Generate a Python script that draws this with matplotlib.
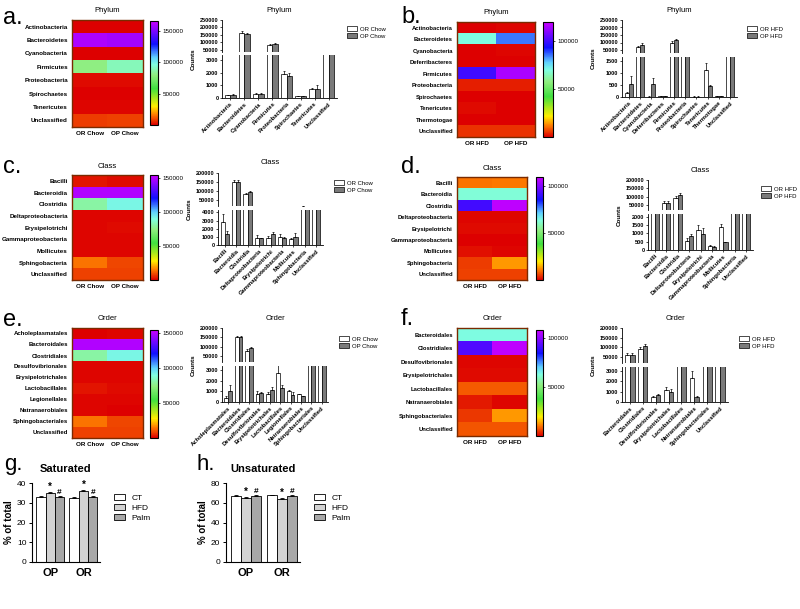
import numpy as np
import matplotlib
matplotlib.use('Agg')
import matplotlib.pyplot as plt
from matplotlib.colors import LinearSegmentedColormap

plt.rcParams['font.family'] = ['Liberation Sans', 'DejaVu Sans']

# ---- data ----
# a. phylum, chow
phy_chow = ["Actinobacteria", "Bacteroidetes", "Cyanobacteria", "Firmicutes",
            "Proteobacteria", "Spirochaetes", "Tenericutes", "Unclassified"]
phy_chow_or = [200, 160000, 350, 80000, 1900, 150, 750, 8000]
phy_chow_op = [250, 158000, 330, 90000, 1750, 130, 700, 8500]
phy_chow_or_err = [30, 15000, 40, 8000, 250, 20, 80, 300]
phy_chow_op_err = [40, 8000, 40, 9000, 200, 20, 300, 300]

# b. phylum, HFD
phy_hfd = ["Actinobacteria", "Bacteroidetes", "Cyanobacteria", "Deferribacteres", "Firmicutes",
           "Proteobacteria", "Spirochaetes", "Tenericutes", "Thermotogae", "Unclassified"]
phy_hfd_or = [150, 70000, 20, 30, 100000, 3000, 20, 1100, 50, 5000]
phy_hfd_op = [550, 85000, 550, 30, 115000, 3000, 20, 450, 50, 5000]
phy_hfd_or_err = [50, 10000, 10, 5, 8000, 100, 5, 300, 10, 100]
phy_hfd_op_err = [300, 10000, 250, 5, 10000, 100, 5, 40, 10, 100]

# c. class, chow
cls_chow = ["Bacilli", "Bacteroidia", "Clostridia", "Deltaproteobacteria", "Erysipelotrichi",
            "Gammaproteobacteria", "Mollicutes", "Sphingobacteria", "Unclassified"]
cls_chow_or = [2800, 150000, 80000, 900, 850, 1000, 700, 14000, 8000]
cls_chow_op = [1300, 150000, 92000, 800, 1300, 800, 1000, 9000, 8000]
cls_chow_or_err = [1000, 10000, 8000, 300, 200, 300, 200, 500, 500]
cls_chow_op_err = [400, 8000, 8000, 100, 300, 200, 500, 500, 500]

# d. class, HFD
cls_hfd = cls_chow
cls_hfd_or = [10000, 63000, 92000, 550, 1200, 250, 1400, 5500, 6000]
cls_hfd_op = [10500, 63000, 108000, 850, 950, 200, 450, 13000, 6000]
cls_hfd_or_err = [500, 8000, 10000, 150, 300, 30, 150, 500, 500]
cls_hfd_op_err = [500, 8000, 12000, 80, 350, 20, 50, 800, 500]

# e. order, chow
ord_chow = ["Acholeplasmatales", "Bacteroidales", "Clostridiales", "Desulfovibrionales",
            "Erysipelotrichales", "Lactobacillales", "Legionellales", "Natranaerobiales",
            "Sphingobacteriales", "Unclassified"]
ord_chow_or = [400, 150000, 80000, 800, 800, 2700, 1000, 750, 14000, 8000]
ord_chow_op = [1000, 150000, 92000, 850, 1100, 1300, 700, 550, 9000, 8000]
ord_chow_or_err = [200, 10000, 8000, 200, 100, 1400, 100, 50, 500, 500]
ord_chow_op_err = [600, 8000, 8000, 100, 300, 300, 200, 50, 500, 500]

# f. order, HFD
ord_hfd = ["Bacteroidales", "Clostridiales", "Desulfovibrionales", "Erysipelotrichales",
           "Lactobacillales", "Natranaerobiales", "Sphingobacteriales", "Unclassified"]
ord_hfd_or = [63000, 92000, 500, 1200, 8000, 2300, 5000, 7500]
ord_hfd_op = [63000, 106000, 700, 950, 8000, 500, 13000, 7500]
ord_hfd_or_err = [8000, 10000, 100, 300, 300, 700, 300, 300]
ord_hfd_op_err = [8000, 12000, 80, 300, 300, 50, 600, 300]

# g, h. fatty acids
groups = ["OP", "OR"]
sat_ct = [33.0, 32.5]
sat_hfd = [34.8, 35.8]
sat_palm = [32.8, 32.8]
sat_err = [0.5, 0.6, 0.5]
unsat_ct = [67.0, 67.5]
unsat_hfd = [65.0, 64.0]
unsat_palm = [67.0, 67.0]
unsat_err = [0.5, 0.6, 0.5]

# ---- setup ----
W, H = 800, 609
fig = plt.figure(figsize=(8, 6.09), dpi=100)

cmap = LinearSegmentedColormap.from_list('gp_rainbow', [
    (0.0, '#dd0000'), (0.1, '#ff8000'), (0.18, '#ffee00'), (0.35, '#40e040'),
    (0.48, '#90ee80'), (0.58, '#80ffe0'), (0.65, '#60d0ff'), (0.78, '#1010ff'),
    (1.0, '#cc00ff')])


def box(x0, y0, x1, y1):
    return [x0 / W, 1 - y1 / H, (x1 - x0) / W, (y1 - y0) / H]


def heatmap(rect, cbrect, rows, cols, v_or, v_op, vmax, ticks, title, fs=4.5):
    ax = fig.add_axes(box(*rect))
    data = np.column_stack([v_or, v_op])
    im = ax.imshow(data, cmap=cmap, vmin=0, vmax=vmax, aspect='auto', interpolation='nearest')
    ax.set_xticks([0, 1])
    ax.set_xticklabels(cols, fontsize=4.5, fontweight='bold')
    ax.set_yticks(range(len(rows)))
    ax.set_yticklabels(rows, fontsize=fs, fontweight='bold')
    ax.tick_params(length=0, pad=3)
    for s in ax.spines.values():
        s.set_color('#7a2a00')
        s.set_linewidth(1)
    cax = fig.add_axes(box(*cbrect))
    cb = fig.colorbar(im, cax=cax, ticks=ticks)
    cb.ax.tick_params(labelsize=4.5, length=1.5, width=0.5, pad=2)
    cb.outline.set_linewidth(0.8)
    fig.text((rect[0] + rect[2]) / 2 / W, 1 - (rect[1] - 9) / H, title,
             ha='center', va='center', fontsize=5.5)


def broken(xr, up_y, lo_y, cats, v_or, v_op, e_or, e_op, up_lim, up_ticks,
           lo_lim, lo_ticks, labels, leg_xy, title):
    n = len(cats)
    x = np.arange(n)
    w = 0.37
    zero = np.zeros(n)
    ek = dict(elinewidth=0.5, capsize=1, capthick=0.5)
    axu = fig.add_axes(box(xr[0], up_y[0], xr[1], up_y[1]))
    axl = fig.add_axes(box(xr[0], lo_y[0], xr[1], lo_y[1]))
    for ax in (axu, axl):
        b1 = ax.bar(x - w / 2, v_or, w, color='white', edgecolor='black', linewidth=0.5,
                    yerr=[zero, e_or], error_kw=ek)
        b2 = ax.bar(x + w / 2, v_op, w, color='#7a7a7a', edgecolor='black', linewidth=0.5,
                    yerr=[zero, e_op], error_kw=ek)
        ax.set_xlim(-0.6, n - 0.4)
        ax.spines[['top', 'right']].set_visible(False)
        ax.spines['left'].set_linewidth(0.6)
        ax.spines['bottom'].set_linewidth(0.6)
        ax.tick_params(labelsize=4, length=1.5, width=0.5, pad=1)
    axu.set_ylim(up_lim)
    axu.set_yticks(up_ticks)
    axu.spines['bottom'].set_visible(False)
    axu.set_xticks([])
    axl.set_ylim(lo_lim)
    axl.set_yticks(lo_ticks)
    axl.set_xticks(x)
    axl.set_xticklabels(cats, rotation=45, ha='right', rotation_mode='anchor',
                        fontsize=4.2, fontweight='bold')
    for ax in (axu, axl):
        for t in ax.get_yticklabels():
            t.set_fontweight('bold')
    fig.legend([b1, b2], labels, loc='upper left',
               bbox_to_anchor=(leg_xy[0] / W, 1 - leg_xy[1] / H), frameon=False,
               fontsize=4.3, handlelength=1.6, handleheight=0.8, labelspacing=0.3,
               borderpad=0.2, handletextpad=0.5)
    fig.text((xr[0] - 29) / W, 1 - (up_y[0] + lo_y[1]) / 2 / H, 'Counts', rotation=90,
             ha='center', va='center', fontsize=4.5, fontweight='bold')
    fig.text((xr[0] + xr[1]) / 2 / W, 1 - (up_y[0] - 10) / H, title,
             ha='center', va='center', fontsize=5.5)


def fatty(rect, ct, hfd, palm, err, ylim, yticks, title, leg_xy):
    ax = fig.add_axes(box(*rect))
    x = np.arange(len(groups))
    w = 0.28
    cols = ['white', '#d3d3d3', '#a8a8a8']
    labs = ['CT', 'HFD', 'Palm']
    handles = []
    for k, vals in enumerate([ct, hfd, palm]):
        b = ax.bar(x + (k - 1) * w, vals, w, color=cols[k], edgecolor='black', linewidth=0.6,
                   yerr=[np.zeros(len(x)), [err[k]] * len(x)],
                   error_kw=dict(elinewidth=0.6, capsize=1.5, capthick=0.6))
        handles.append(b)
    for i in range(len(x)):
        ax.text(x[i], hfd[i] + err[1] + ylim[1] * 0.005, '*', ha='center', va='bottom',
                fontsize=7, fontweight='bold')
        ax.text(x[i] + w, palm[i] + err[2] + ylim[1] * 0.005, '#', ha='center', va='bottom',
                fontsize=6, fontweight='bold')
    ax.set_xlim(-0.55, 1.5)
    ax.set_ylim(ylim)
    ax.set_yticks(yticks)
    ax.set_xticks(x)
    ax.set_xticklabels(groups, fontsize=8, fontweight='bold')
    ax.spines[['top', 'right']].set_visible(False)
    ax.tick_params(axis='y', labelsize=6, length=2.5, width=0.7, pad=1.5)
    ax.tick_params(axis='x', length=0, pad=4)
    ax.set_ylabel('% of total', fontsize=7, fontweight='bold', labelpad=2)
    fig.text((rect[0] + rect[2]) / 2 / W, 1 - (rect[1] - 14) / H, title,
             ha='center', va='center', fontsize=8, fontweight='bold')
    fig.legend(handles, labs, loc='upper left', bbox_to_anchor=(leg_xy[0] / W, 1 - leg_xy[1] / H),
               frameon=False, fontsize=6, handlelength=1.4, handleheight=0.9, labelspacing=0.2)


# ---- panels ----
heatmap((72, 20, 143, 127), (150, 21, 158, 125), phy_chow, ["OR Chow", "OP Chow"],
        phy_chow_or, phy_chow_op, 166000, [50000, 100000, 150000], "Phylum")
broken((222, 337), (20, 52), (55, 98), phy_chow, phy_chow_or, phy_chow_op,
       phy_chow_or_err, phy_chow_op_err, (36000, 250000), [50000, 100000, 150000, 200000, 250000],
       (0, 3400), [0, 1000, 2000, 3000], ["OR Chow", "OP Chow"], (343, 22), "Phylum")

heatmap((457, 22, 535, 137), (543, 22, 553, 137), phy_hfd, ["OR HFD", "OP HFD"],
        phy_hfd_or, phy_hfd_op, 120000, [50000, 100000], "Phylum", fs=4.2)
broken((622, 737), (20, 53), (57, 97), phy_hfd, phy_hfd_or, phy_hfd_op,
       phy_hfd_or_err, phy_hfd_op_err, (30000, 250000), [50000, 100000, 150000, 200000, 250000],
       (0, 1650), [0, 500, 1000, 1500], ["OR HFD", "OP HFD"], (743, 22), "Phylum")

heatmap((72, 175, 143, 280), (150, 175, 158, 280), cls_chow, ["OR Chow", "OP Chow"],
        cls_chow_or, cls_chow_op, 155000, [50000, 100000, 150000], "Class")
broken((218, 323), (173, 206), (210, 245), cls_chow, cls_chow_or, cls_chow_op,
       cls_chow_or_err, cls_chow_op_err, (15000, 200000), [50000, 100000, 150000, 200000],
       (0, 4300), [0, 1000, 2000, 3000, 4000], ["OR Chow", "OP Chow"], (330, 176), "Class")

heatmap((457, 177, 527, 280), (536, 177, 543, 280), cls_hfd, ["OR HFD", "OP HFD"],
        cls_hfd_or, cls_hfd_op, 110000, [50000, 100000], "Class", fs=4.2)
broken((648, 753), (180, 210), (214, 250), cls_hfd, cls_hfd_or, cls_hfd_op,
       cls_hfd_or_err, cls_hfd_op_err, (20000, 200000), [50000, 100000, 150000, 200000],
       (0, 2150), [0, 500, 1000, 1500, 2000], ["OR HFD", "OP HFD"], (757, 182), "Class")

heatmap((72, 328, 143, 438), (150, 330, 158, 438), ord_chow, ["OR Chow", "OP Chow"],
        ord_chow_or, ord_chow_op, 155000, [50000, 100000, 150000], "Order", fs=4.3)
broken((222, 328), (328, 362), (366, 402), ord_chow, ord_chow_or, ord_chow_op,
       ord_chow_or_err, ord_chow_op_err, (20000, 200000), [50000, 100000, 150000, 200000],
       (0, 3400), [0, 1000, 2000, 3000], ["OR Chow", "OP Chow"], (335, 332), "Order")

heatmap((457, 328, 527, 436), (536, 330, 543, 436), ord_hfd, ["OR HFD", "OP HFD"],
        ord_hfd_or, ord_hfd_op, 108000, [50000, 100000], "Order", fs=4.2)
broken((622, 728), (328, 363), (367, 402), ord_hfd, ord_hfd_or, ord_hfd_op,
       ord_hfd_or_err, ord_hfd_op_err, (20000, 200000), [50000, 100000, 150000, 200000],
       (0, 3400), [0, 1000, 2000, 3000], ["OR HFD", "OP HFD"], (735, 332), "Order")

fatty((32, 483, 100, 562), sat_ct, sat_hfd, sat_palm, sat_err, (0, 40), [0, 10, 20, 30, 40],
      "Saturated", (106, 486))
fatty((226, 483, 300, 562), unsat_ct, unsat_hfd, unsat_palm, unsat_err, (0, 80),
      [0, 20, 40, 60, 80], "Unsaturated", (306, 486))

# panel letters
for lab, px, py, fs in [("a.", 3, 24, 17), ("b.", 401, 23, 17), ("c.", 3, 173, 17),
                        ("d.", 401, 173, 17), ("e.", 3, 326, 17), ("f.", 401, 325, 17),
                        ("g.", 4, 470, 16), ("h.", 196, 470, 16)]:
    fig.text(px / W, 1 - py / H, lab, fontsize=fs, va='baseline', ha='left')

fig.savefig('out.png', dpi=100, facecolor='white')
